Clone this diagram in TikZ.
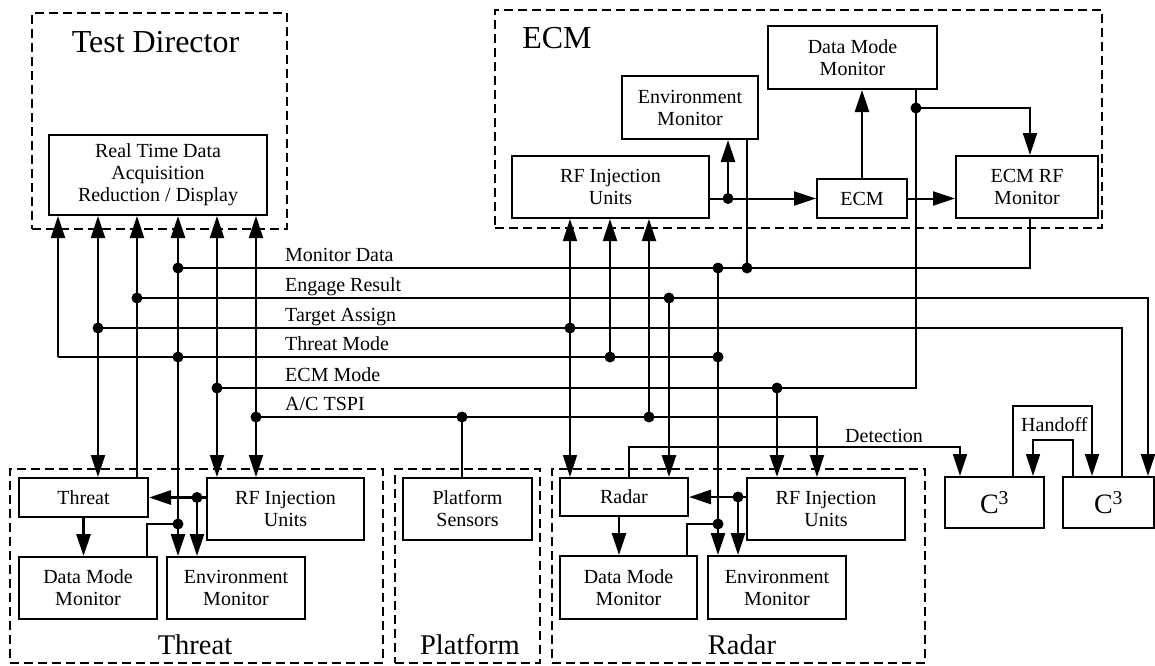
\documentclass[tikz,border=0pt]{standalone}
\usepackage{fontspec}
\setmainfont{Liberation Serif}
\usetikzlibrary{arrows.meta}

\newcommand\fsBox{\fontsize{20}{22}\selectfont}
\newcommand\fsTop{\fontsize{32}{36}\selectfont}
\newcommand\fsBot{\fontsize{28.5}{32}\selectfont}
\newcommand\fsC{\fontsize{28}{30}\selectfont}

\begin{document}
\begin{tikzpicture}[x=1pt, y=-1pt,
  blk/.style={draw, line width=2pt, inner sep=0pt, align=center, font=\fsBox},
  grp/.style={draw, line width=2.6pt, dash pattern=on 9pt off 5pt, inner sep=0pt},
  ttl/.style={font=\fsTop, anchor=base, inner sep=0pt},
  sttl/.style={font=\fsBot, anchor=base, inner sep=0pt},
  lab/.style={font=\fsBox, anchor=base west, inner sep=0pt},
  wire/.style={line width=2pt},
  thin/.style={line width=1.6pt},
  bold/.style={line width=2.8pt},
  arr/.style={-{Triangle[length=22pt,width=14pt]}},
  arrs/.style={{Triangle[length=22pt,width=14pt]}-{Triangle[length=22pt,width=14pt]}},
  jn/.style={fill=black}
]
\useasboundingbox (0,0) rectangle (1155,665);

% ---- group frames and titles ----
\node[grp, minimum width=255pt, minimum height=216pt] (gTD)   at (159.5,121) {};
\node[grp, minimum width=607pt, minimum height=218pt] (gECM)  at (798.5,119) {};
\node[grp, minimum width=373pt, minimum height=194pt] (gThr)  at (196.5,566) {};
\node[grp, minimum width=145pt, minimum height=194pt] (gPlat) at (467.5,566) {};
\node[grp, minimum width=373pt, minimum height=194pt] (gRad)  at (738.5,566) {};

\node[ttl]  (nTD)   at (155.5,52) {Test Director};
\node[ttl]  (nECM)  at (557,48)   {ECM};
\node[sttl] (nThr)  at (195,654)  {Threat};
\node[sttl] (nPlat) at (470,654)  {Platform};
\node[sttl] (nRad)  at (742,654)  {Radar};

% ---- blocks ----
\node[blk, minimum width=218pt, minimum height=80pt] (rtd) at (158,175) {Real Time Data\\Acquisition\\Reduction / Display};

\node[blk, minimum width=136pt, minimum height=63pt] (eEnv) at (690,107.5) {Environment\\Monitor};
\node[blk, minimum width=197pt, minimum height=62pt] (eRF)  at (610.5,187) {RF Injection\\Units};
\node[blk, minimum width=90pt,  minimum height=39pt] (eECM) at (862,198.5) {ECM};
\node[blk, minimum width=169pt, minimum height=63pt] (eDMM) at (852.5,57.5) {Data Mode\\Monitor};
\node[blk, minimum width=142pt, minimum height=62pt] (eRFM) at (1027,187) {ECM RF\\Monitor};

\node[blk, minimum width=129pt, minimum height=39pt] (tThreat) at (83.5,497.5) {Threat};
\node[blk, minimum width=157pt, minimum height=62pt] (tRF)  at (285.5,509) {RF Injection\\Units};
\node[blk, minimum width=138pt, minimum height=62pt] (tDMM) at (88,588) {Data Mode\\Monitor};
\node[blk, minimum width=138pt, minimum height=62pt] (tEnv) at (236,588) {Environment\\Monitor};

\node[blk, minimum width=129pt, minimum height=62pt] (pSens) at (467.5,509) {Platform\\Sensors};

\node[blk, minimum width=128pt, minimum height=38pt] (rRadar) at (624,497) {Radar};
\node[blk, minimum width=158pt, minimum height=62pt] (rRF)  at (826,509) {RF Injection\\Units};
\node[blk, minimum width=137pt, minimum height=63pt] (rDMM) at (628.5,587.5) {Data Mode\\Monitor};
\node[blk, minimum width=138pt, minimum height=63pt] (rEnv) at (777,587.5) {Environment\\Monitor};

\node[blk, font=\fsC, minimum width=99pt, minimum height=51pt] (c3a) at (994.5,502.5) {C\textsuperscript{3}};
\node[blk, font=\fsC, minimum width=91pt, minimum height=51pt] (c3b) at (1108.5,502.5) {C\textsuperscript{3}};

% ---- bus rows ----
\coordinate (bDM)  at (0,108);
\coordinate (bMD)  at (0,268);
\coordinate (bER)  at (0,298);
\coordinate (bTA)  at (0,328);
\coordinate (bTM)  at (0,357);
\coordinate (bEM)  at (0,388);
\coordinate (bTS)  at (0,417);
\coordinate (bH1)  at (0,406);
\coordinate (bH2)  at (0,440);
\coordinate (bDET) at (0,447);
\coordinate (bJT)  at (0,524);

% ---- columns ----
\foreach \c in {58,98,137,147,178,197,217,256,462,570,610,619,629,649,669,687,718,728,738,747,777,817,916,960,1013,1030,1033,1073,1092,1122,1148}
  \coordinate (k\c) at (\c,0);

% ---- bus labels ----
\node[lab] (lMD) at (285,261.5) {Monitor Data};
\node[lab] (lER) at (285,291.5) {Engage Result};
\node[lab] (lTA) at (285,321.5) {Target Assign};
\node[lab] (lTM) at (285,350.5) {Threat Mode};
\node[lab] (lEM) at (285,381.5) {ECM Mode};
\node[lab] (lTS) at (285,410.5) {A/C TSPI};
\node[lab] (lDET) at (845,442) {Detection};
\node[lab] (lHO)  at (1021,431) {Handoff};

% ---- horizontal buses ----
\draw[wire] (k58 |- bTM) -- (k718 |- bTM);
\draw[wire] (k178 |- bMD) -- (k1030 |- bMD) -- (k1030 |- eRFM.south);
\draw[wire, arr] (k137 |- bER) -- (k1148 |- bER) -- (k1148 |- c3b.north);
\draw[wire] (k98 |- bTA) -- (k1122 |- bTA) -- (k1122 |- c3b.north);
\draw[thin] (k217 |- bEM) -- (k916 |- bEM) -- (k916 |- eDMM.south);
\draw[wire, arr] (k256 |- bTS) -- (k817 |- bTS) -- (k817 |- rRF.north);
\draw[thin, arr] (k629 |- rRadar.north) -- (k629 |- bDET) -- (k960 |- bDET) -- (k960 |- c3a.north);

% ---- links to the test director ----
\draw[wire, arr]  (k58 |- bTM) -- (k58 |- rtd.south);
\draw[wire, arrs] (k98 |- tThreat.north) -- (k98 |- rtd.south);
\draw[wire, arr]  (k137 |- tThreat.north) -- (k137 |- rtd.south);
\draw[bold, arr]  (k178 |- bJT) -- (k178 |- rtd.south);
\draw[wire, arrs] (k217 |- tRF.north) -- (k217 |- rtd.south);
\draw[wire, arrs] (k256 |- tRF.north) -- (k256 |- rtd.south);

% ---- threat internals ----
\draw[bold, arr] (tRF.west |- tThreat.east) -- (tThreat.east);
\draw[bold, arr] (k197 |- tThreat.east) -- (k197 |- tEnv.north);
\draw[bold, arr] (tThreat.south) -- (tThreat.south |- tDMM.north);
\draw[wire] (k147 |- tDMM.north) |- (k178 |- bJT);
\draw[bold, arr] (k178 |- bJT) -- (k178 |- tEnv.north);

% ---- platform ----
\draw[wire] (k462 |- pSens.north) -- (k462 |- bTS);

% ---- radar internals ----
\draw[bold, arr] (rRF.west |- rRadar.east) -- (rRadar.east);
\draw[bold, arr] (k738 |- rRadar.east) -- (k738 |- rEnv.north);
\draw[bold, arr] (k619 |- rRadar.south) -- (k619 |- rDMM.north);
\draw[wire] (k687 |- rDMM.north) |- (k718 |- bJT);
\draw[bold, arr] (k718 |- bMD) -- (k718 |- rEnv.north);

% ---- ECM / radar columns ----
\draw[thin, arrs] (k570 |- rRadar.north) -- (k570 |- eRF.south);
\draw[wire, arr] (k610 |- bTM) -- (k610 |- eRF.south);
\draw[wire, arr] (k649 |- bTS) -- (k649 |- eRF.south);
\draw[bold, arr] (k669 |- bER) -- (k669 |- rRadar.north);
\draw[bold, arr] (k777 |- bEM) -- (k777 |- rRF.north);
\draw[thin] (k747 |- eEnv.south) -- (k747 |- bMD);

% ---- ECM internals ----
\draw[wire, arr] (eRF.east |- eECM.west) -- (eECM.west);
\draw[bold, arr] (k728 |- eECM.west) -- (k728 |- eEnv.south);
\draw[bold, arr] (eECM.north) -- (eECM.north |- eDMM.south);
\draw[wire, arr] (eECM.east) -- (eRFM.west |- eECM.east);
\draw[wire, arr] (k916 |- bDM) -| (k1030 |- eRFM.north);

% ---- handoff between the C3 nodes ----
\draw[thin, arr] (k1013 |- c3a.north) -- (k1013 |- bH1) -- (k1092 |- bH1) -- (k1092 |- c3b.north);
\draw[thin, arr] (k1073 |- c3b.north) -- (k1073 |- bH2) -- (k1033 |- bH2) -- (k1033 |- c3a.north);

% ---- junction dots ----
\foreach \p in {k98 |- bTA, k137 |- bER, k178 |- bMD, k178 |- bTM, k217 |- bEM, k256 |- bTS,
                k462 |- bTS, k570 |- bTA, k610 |- bTM, k649 |- bTS, k669 |- bER,
                k718 |- bMD, k718 |- bTM, k747 |- bMD, k777 |- bEM,
                k728 |- eECM.west, k916 |- bDM,
                k197 |- tThreat.east, k178 |- bJT, k738 |- rRadar.east, k718 |- bJT}
  \fill[jn] (\p) circle[radius=5.5pt];
\end{tikzpicture}
\end{document}
